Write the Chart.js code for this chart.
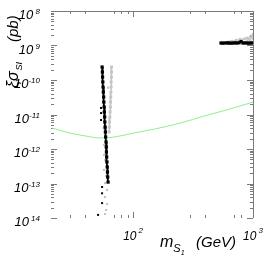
<!DOCTYPE html>
<html>
<head>
<meta charset="utf-8">
<script src="https://cdn.jsdelivr.net/npm/chart.js@4"></script>
<style>
  html, body { margin: 0; padding: 0; background: #fff; }
  #wrap { width: 266px; height: 257px; position: relative; }
</style>
</head>
<body>
<div id="wrap"><canvas id="chart"></canvas></div>
<script>
// axis ranges and ticks
const xRange = [21.1, 1000];
const yRange = [1e-14, 1e-8];
const xMajorTicks = [100, 1000];
const xTickSups = ["2", "3"];
const xMinorTicks = [30, 40, 70, 80, 90, 300, 400, 700, 800];
const yMajorTicks = [1e-8, 1e-9, 1e-10, 1e-11, 1e-12, 1e-13, 1e-14];
const yTickSups = [" 8", " 9", "-10", "-11", "-12", "-13", " 14"];

// green limit curve
const limitMass = [21.1, 29.9, 39.8, 53.1, 70.8, 100, 152, 246, 398, 643, 1000];
const limitSigma = [4.07e-12, 2.88e-12, 2.40e-12, 2.09e-12, 2.24e-12, 2.88e-12, 3.80e-12, 5.62e-12, 9.12e-12, 1.45e-11, 2.29e-11];

// black band near 55-62 GeV
const bandMass = [55.2, 55.5, 55.7, 56.0, 56.2, 56.5, 56.9, 57.1, 57.4, 57.6, 58.0, 58.2, 58.5, 58.8, 59.1, 59.5, 59.8, 60.0, 60.3, 60.6, 60.9, 61.2, 61.5, 61.9];
const bandSigma = [2.38e-10, 1.71e-10, 1.22e-10, 8.75e-11, 6.27e-11, 4.49e-11, 3.21e-11, 2.30e-11, 1.65e-11, 1.18e-11, 8.47e-12, 6.06e-12, 4.34e-12, 3.11e-12, 2.23e-12, 1.60e-12, 1.14e-12, 8.18e-13, 5.86e-13, 4.20e-13, 3.01e-13, 2.15e-13, 1.54e-13, 1.10e-13];

// stray black points
const strayMass = [54.1, 54.1, 54.1, 55.2, 55.2, 55.2, 51.1];
const straySigma = [1.55e-11, 1.10e-11, 6.9e-12, 7.9e-14, 5.2e-14, 2.7e-14, 1.23e-14];

// grey strip right of the band (upper part)
const greyStripMass = [66.2, 66.2, 66.0, 65.6, 65.6, 65.4, 65.2, 64.9, 64.7, 64.3, 64.1, 63.7, 63.5, 63.1];
const greyStripSigma = [2.38e-10, 1.71e-10, 1.22e-10, 8.75e-11, 6.27e-11, 4.49e-11, 3.21e-11, 2.30e-11, 1.65e-11, 1.18e-11, 8.47e-12, 6.06e-12, 4.34e-12, 3.11e-12];

// scattered grey points below
const greyMass = [59.6, 57.3, 59.6, 57.3, 58.4, 60.7, 57.3, 59.6, 58.4, 60.7, 58.4, 60.7, 59.6, 58.4, 56.8, 58.0, 57.0, 62.0, 56.6];
const greySigma = [1.82e-12, 1.31e-12, 9.35e-13, 6.70e-13, 4.80e-13, 3.44e-13, 2.46e-13, 1.65e-13, 1.03e-13, 6.48e-14, 4.06e-14, 2.55e-14, 1.71e-14, 1.31e-14, 2.1e-11, 9.5e-12, 4.0e-12, 6.0e-11, 5.5e-11];

// heavy branch, black line and grey spread above it
const heavyMass = [541, 560, 584, 610, 630, 655, 681, 708, 735, 765, 794, 825, 858, 892, 927, 963, 1000];
const heavySigma = [1.18e-9, 1.17e-9, 1.18e-9, 1.19e-9, 1.18e-9, 1.17e-9, 1.18e-9, 1.19e-9, 1.18e-9, 1.2e-9, 1.3e-9, 1.18e-9, 1.19e-9, 1.18e-9, 1.17e-9, 1.18e-9, 1.19e-9];
const heavyGreyMass = [600, 619, 640, 668, 700, 722, 750, 780, 810, 843, 870, 892, 920, 944, 965, 981, 1000, 1000, 700, 800, 900, 950];
const heavyGreySigma = [1.22e-9, 1.26e-9, 1.3e-9, 1.35e-9, 1.32e-9, 1.44e-9, 1.4e-9, 1.54e-9, 1.45e-9, 1.54e-9, 1.6e-9, 1.65e-9, 1.55e-9, 1.76e-9, 1.7e-9, 1.88e-9, 2.15e-9, 1.6e-9, 1.25e-9, 1.3e-9, 1.35e-9, 1.4e-9];

const pts = (xs, ys) => xs.map((x, i) => ({ x: x, y: ys[i] }));

const FONT = "'Liberation Sans', Arial, sans-serif";
const AXIS = "#7a7a7a";
const GREY = "#c4c4c4";

// ticks, frame and the text around the plot
const frame = {
  id: "frame",
  beforeDatasetsDraw(chart) {
    const { ctx, chartArea: a, scales } = chart;
    ctx.save();
    ctx.strokeStyle = AXIS;
    ctx.lineWidth = 1;
    ctx.beginPath();
    ctx.moveTo(a.left, a.top + 0.5);
    ctx.lineTo(a.right + 0.5, a.top + 0.5);
    ctx.lineTo(a.right + 0.5, a.bottom);
    // x ticks, top and bottom
    const xt = (v, len) => {
      const px = Math.round(scales.x.getPixelForValue(v)) + 0.5;
      ctx.moveTo(px, a.top); ctx.lineTo(px, a.top + len);
      ctx.moveTo(px, a.bottom); ctx.lineTo(px, a.bottom - len);
    };
    xMinorTicks.forEach(v => xt(v, 3));
    xMajorTicks.forEach(v => xt(v, 6));
    // y ticks, left and right
    const yt = (v, len) => {
      const py = Math.round(scales.y.getPixelForValue(v)) + 0.5;
      ctx.moveTo(a.left - 1, py); ctx.lineTo(a.left - 1 + len, py);
      ctx.moveTo(a.right, py); ctx.lineTo(a.right - len, py);
    };
    yMajorTicks.forEach((v, i) => {
      yt(v, 6);
      if (i > 0) for (let k = 2; k <= 9; k++) yt(v * k, 3);
    });
    ctx.stroke();
    ctx.restore();
  },
  afterDraw(chart) {
    const { ctx, chartArea: a, scales } = chart;
    ctx.save();
    ctx.fillStyle = "#000";
    ctx.textBaseline = "alphabetic";
    // y tick labels
    ctx.textAlign = "right";
    yMajorTicks.forEach((v, i) => {
      const py = scales.y.getPixelForValue(v);
      ctx.font = "italic 8px " + FONT;
      ctx.fillText(yTickSups[i], 40, py + 3);
      const w = ctx.measureText(yTickSups[i]).width;
      ctx.font = "italic 13px " + FONT;
      ctx.fillText("10", 40 - w, py + 8);
    });
    // x tick labels
    ctx.textAlign = "left";
    xMajorTicks.forEach((v, i) => {
      const px = scales.x.getPixelForValue(v);
      ctx.font = "italic 12px " + FONT;
      const w1 = ctx.measureText("10").width;
      ctx.font = "italic 8px " + FONT;
      const w2 = ctx.measureText(xTickSups[i]).width;
      const x0 = px - (w1 + w2 + 2) / 2;
      ctx.font = "italic 12px " + FONT;
      ctx.fillText("10", x0, a.bottom + 22);
      ctx.font = "italic 8px " + FONT;
      ctx.fillText(xTickSups[i], x0 + w1 + 2, a.bottom + 15);
    });
    // x title
    ctx.font = "italic 16px " + FONT;
    ctx.fillText("m", 160, 247);
    let x = 160 + ctx.measureText("m").width;
    ctx.font = "italic 11px " + FONT;
    ctx.fillText("S", x, 252);
    x += ctx.measureText("S").width;
    ctx.font = "italic 7px " + FONT;
    ctx.fillText("1", x, 255);
    ctx.font = "italic 15px " + FONT;
    ctx.fillText("(GeV)", 196, 247);
    // y title, rotated
    ctx.translate(18, 88);
    ctx.rotate(-Math.PI / 2);
    ctx.font = "italic 16px " + FONT;
    ctx.fillText("\u03BE\u03C3", 0, 0);
    let y = ctx.measureText("\u03BE\u03C3").width + 1;
    ctx.font = "italic 9px " + FONT;
    ctx.fillText("SI", y, 4);
    ctx.font = "italic 15px " + FONT;
    ctx.fillText("(pb)", 46, 0);
    ctx.restore();
  }
};

new Chart(document.getElementById("chart"), {
  type: "scatter",
  data: {
    datasets: [
      {
        data: pts(bandMass, bandSigma),
        showLine: true, borderColor: "#000", borderWidth: 1.8,
        pointRadius: 1, pointStyle: "rect", backgroundColor: "#000", borderCapStyle: "butt"
      },
      {
        data: pts(strayMass, straySigma),
        pointRadius: 1.4, pointStyle: "rect", backgroundColor: "#000", borderWidth: 0
      },
      {
        data: pts(heavyMass, heavySigma),
        showLine: true, borderColor: "#000", borderWidth: 1.8,
        pointRadius: 1, pointStyle: "rect", backgroundColor: "#000"
      },
      {
        data: pts(greyStripMass, greyStripSigma),
        showLine: true, borderColor: GREY, borderWidth: 1.5,
        pointRadius: 1, pointStyle: "rect", backgroundColor: GREY
      },
      {
        data: pts(greyMass, greySigma),
        pointRadius: 1.5, pointStyle: "rect", backgroundColor: GREY, borderWidth: 0
      },
      {
        data: pts(heavyGreyMass, heavyGreySigma),
        pointRadius: 1.7, pointStyle: "rect", backgroundColor: GREY, borderWidth: 0
      },
      {
        data: pts(limitMass, limitSigma),
        showLine: true, borderColor: "#90ee90", borderWidth: 1,
        pointRadius: 0, cubicInterpolationMode: "monotone"
      }
    ]
  },
  options: {
    responsive: true,
    maintainAspectRatio: false,
    animation: false,
    layout: { padding: { left: 52, right: 13, top: 11, bottom: 39 } },
    plugins: { legend: { display: false }, tooltip: { enabled: false } },
    scales: {
      x: { type: "logarithmic", min: xRange[0], max: xRange[1], display: false },
      y: { type: "logarithmic", min: yRange[0], max: yRange[1], display: false }
    }
  },
  plugins: [frame]
});
</script>
</body>
</html>
